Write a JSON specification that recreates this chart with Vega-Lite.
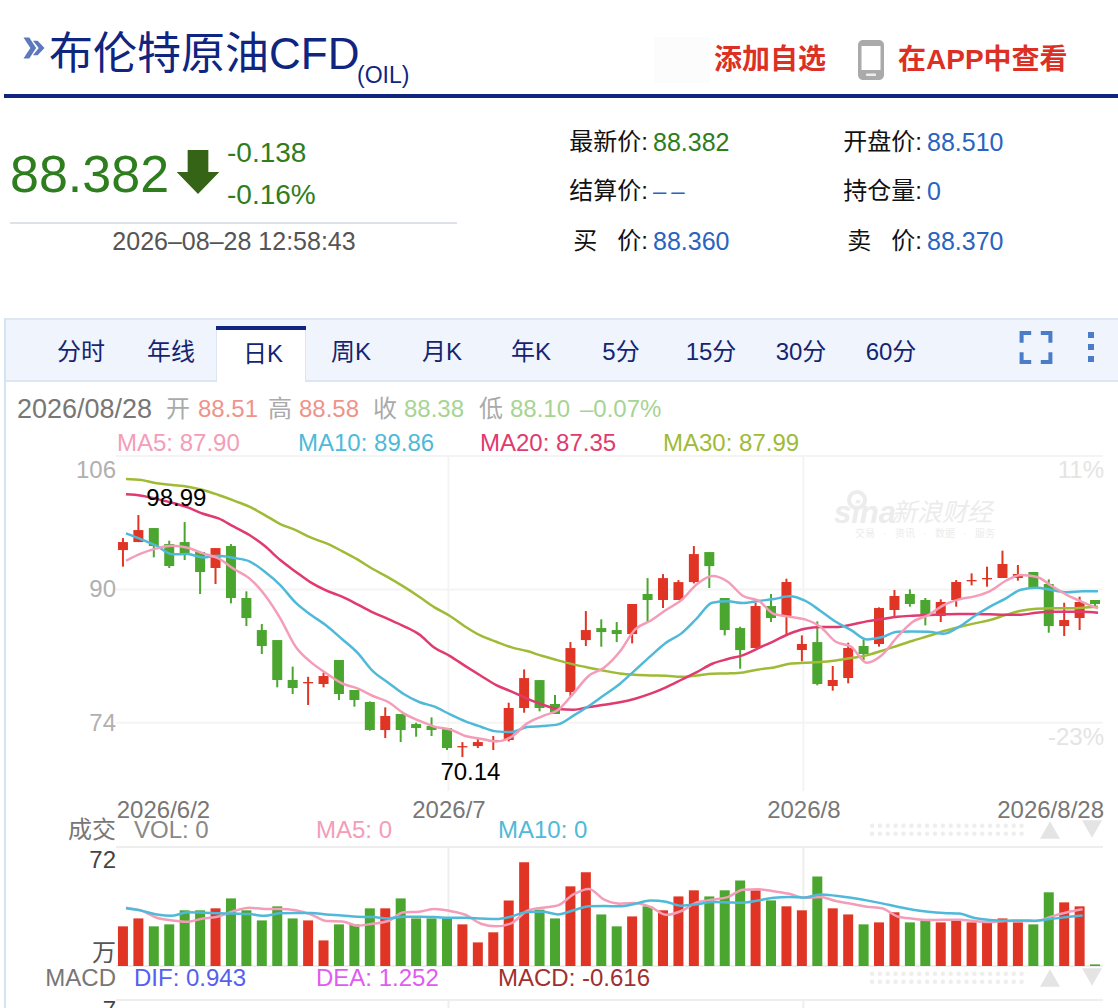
{"$schema":"https://vega.github.io/schema/vega-lite/v6.json","width":1118,"height":1008,"padding":0,"autosize":"none","background":"#ffffff",
"config":{"view":{"stroke":null},"axis":{"disable":true},"legend":{"disable":true},"text":{"font":"Liberation Sans, Noto Sans CJK SC","fontSize":24,"align":"left","baseline":"middle"}},
"datasets":{
"days":[
{"i":0,"dir":"up","o":94.72,"h":96.16,"l":92.73,"c":95.68,"v":24.0,"m5":93.44,"m10":96.72,"m20":101.40,"m30":103.24,"vm5":35.3,"vm10":34.9},
{"i":1,"dir":"up","o":95.68,"h":98.92,"l":95.68,"c":97.12,"v":28.8,"m5":94.32,"m10":96.00,"m20":101.24,"m30":103.12,"vm5":33.5,"vm10":33.5},
{"i":2,"dir":"down","o":97.36,"h":97.36,"l":93.85,"c":95.21,"v":24.0,"m5":94.92,"m10":95.21,"m20":100.84,"m30":102.72,"vm5":29.2,"vm10":31.2},
{"i":3,"dir":"down","o":95.44,"h":95.84,"l":92.57,"c":92.81,"v":25.2,"m5":95.24,"m10":94.21,"m20":100.40,"m30":102.52,"vm5":27.6,"vm10":30.4},
{"i":4,"dir":"down","o":95.68,"h":98.08,"l":93.53,"c":94.24,"v":33.7,"m5":95.00,"m10":94.24,"m20":99.84,"m30":102.32,"vm5":26.8,"vm10":32.5},
{"i":5,"dir":"down","o":94.49,"h":94.49,"l":89.45,"c":92.09,"v":33.7,"m5":94.32,"m10":93.84,"m20":99.08,"m30":101.92,"vm5":28.8,"vm10":32.3},
{"i":6,"dir":"up","o":92.57,"h":94.96,"l":90.65,"c":94.96,"v":34.9,"m5":93.72,"m10":94.04,"m20":98.52,"m30":101.32,"vm5":30.0,"vm10":31.9},
{"i":7,"dir":"down","o":95.21,"h":95.44,"l":88.33,"c":88.97,"v":40.9,"m5":92.45,"m10":93.77,"m20":97.52,"m30":100.64,"vm5":33.3,"vm10":31.7},
{"i":8,"dir":"down","o":88.97,"h":89.77,"l":85.61,"c":86.57,"v":33.7,"m5":91.33,"m10":93.37,"m20":96.52,"m30":99.92,"vm5":35.3,"vm10":31.4},
{"i":9,"dir":"down","o":85.13,"h":85.85,"l":82.25,"c":83.21,"v":27.6,"m5":89.33,"m10":92.13,"m20":95.20,"m30":98.92,"vm5":34.5,"vm10":30.4},
{"i":10,"dir":"down","o":83.93,"h":83.93,"l":78.26,"c":79.14,"v":36.1,"m5":86.53,"m10":90.53,"m20":93.52,"m30":97.84,"vm5":34.5,"vm10":31.9},
{"i":11,"dir":"down","o":79.14,"h":80.74,"l":77.46,"c":78.18,"v":28.8,"m5":83.13,"m10":88.41,"m20":92.13,"m30":97.12,"vm5":33.7,"vm10":32.1},
{"i":12,"dir":"up","o":78.74,"h":79.53,"l":76.14,"c":78.90,"v":27.6,"m5":81.25,"m10":86.93,"m20":90.81,"m30":96.20,"vm5":31.2,"vm10":32.1},
{"i":13,"dir":"up","o":78.66,"h":80.02,"l":78.26,"c":79.62,"v":15.5,"m5":79.93,"m10":85.65,"m20":89.85,"m30":95.52,"vm5":27.2,"vm10":31.2},
{"i":14,"dir":"down","o":81.54,"h":81.54,"l":76.74,"c":77.46,"v":25.2,"m5":78.74,"m10":84.05,"m20":89.13,"m30":94.60,"vm5":27.0,"vm10":30.6},
{"i":15,"dir":"down","o":77.94,"h":77.94,"l":75.94,"c":76.74,"v":25.2,"m5":78.14,"m10":82.41,"m20":88.21,"m30":93.60,"vm5":24.4,"vm10":29.8},
{"i":16,"dir":"down","o":76.50,"h":76.58,"l":73.06,"c":73.14,"v":34.9,"m5":77.22,"m10":80.21,"m20":87.25,"m30":92.45,"vm5":25.6,"vm10":29.6},
{"i":17,"dir":"up","o":73.14,"h":75.86,"l":72.18,"c":74.82,"v":34.9,"m5":76.50,"m10":78.82,"m20":86.45,"m30":91.45,"vm5":27.2,"vm10":28.8},
{"i":18,"dir":"down","o":75.06,"h":75.06,"l":71.70,"c":73.14,"v":40.9,"m5":75.14,"m10":77.46,"m20":85.61,"m30":90.33,"vm5":32.5,"vm10":29.8},
{"i":19,"dir":"down","o":73.86,"h":74.02,"l":72.34,"c":73.38,"v":28.8,"m5":74.26,"m10":76.50,"m20":84.61,"m30":89.13,"vm5":32.9,"vm10":29.8},
{"i":20,"dir":"down","o":73.62,"h":74.66,"l":72.42,"c":73.14,"v":28.8,"m5":73.54,"m10":75.94,"m20":83.01,"m30":87.85,"vm5":34.5,"vm10":29.6},
{"i":21,"dir":"down","o":73.38,"h":73.38,"l":70.74,"c":70.98,"v":28.8,"m5":73.22,"m10":75.02,"m20":82.01,"m30":86.81,"vm5":33.3,"vm10":29.2},
{"i":22,"dir":"up","o":71.06,"h":71.70,"l":69.90,"c":71.22,"v":25.2,"m5":72.42,"m10":74.18,"m20":80.81,"m30":85.53,"vm5":31.0,"vm10":29.2},
{"i":23,"dir":"up","o":71.22,"h":72.18,"l":70.98,"c":71.70,"v":14.3,"m5":72.10,"m10":73.54,"m20":79.65,"m30":84.45,"vm5":25.6,"vm10":28.8},
{"i":24,"dir":"up","o":71.78,"h":72.42,"l":70.74,"c":71.94,"v":20.4,"m5":71.78,"m10":72.98,"m20":78.53,"m30":83.73,"vm5":24.0,"vm10":28.4},
{"i":25,"dir":"up","o":71.94,"h":76.42,"l":71.78,"c":75.78,"v":39.7,"m5":72.34,"m10":72.90,"m20":77.74,"m30":83.05,"vm5":26.0,"vm10":30.0},
{"i":26,"dir":"up","o":75.78,"h":80.41,"l":75.22,"c":79.37,"v":62.7,"m5":73.94,"m10":73.50,"m20":76.90,"m30":82.61,"vm5":33.3,"vm10":32.7},
{"i":27,"dir":"down","o":79.13,"h":79.13,"l":75.38,"c":75.78,"v":34.1,"m5":74.82,"m10":73.62,"m20":76.18,"m30":82.01,"vm5":35.3,"vm10":32.9},
{"i":28,"dir":"down","o":76.26,"h":77.34,"l":75.06,"c":75.06,"v":28.8,"m5":75.54,"m10":73.82,"m20":75.66,"m30":81.49,"vm5":36.7,"vm10":31.2},
{"i":29,"dir":"up","o":77.70,"h":83.69,"l":77.14,"c":82.97,"v":48.2,"m5":77.54,"m10":74.86,"m20":75.58,"m30":81.01,"vm5":43.3,"vm10":33.7},
{"i":30,"dir":"up","o":83.93,"h":87.41,"l":83.21,"c":85.13,"v":56.7,"m5":79.65,"m10":76.02,"m20":75.90,"m30":80.61,"vm5":46.6,"vm10":36.1},
{"i":31,"dir":"down","o":85.37,"h":86.41,"l":83.13,"c":84.89,"v":31.2,"m5":80.65,"m10":77.34,"m20":76.18,"m30":80.25,"vm5":40.1,"vm10":36.3},
{"i":32,"dir":"down","o":85.13,"h":86.09,"l":83.69,"c":84.65,"v":24.0,"m5":82.53,"m10":78.66,"m20":76.46,"m30":79.93,"vm5":37.7,"vm10":36.1},
{"i":33,"dir":"up","o":84.65,"h":88.25,"l":83.53,"c":88.25,"v":30.0,"m5":85.21,"m10":80.33,"m20":76.90,"m30":79.77,"vm5":38.1,"vm10":37.7},
{"i":34,"dir":"down","o":89.45,"h":91.36,"l":86.09,"c":88.73,"v":36.1,"m5":86.25,"m10":82.01,"m20":77.50,"m30":79.69,"vm5":35.7,"vm10":39.7},
{"i":35,"dir":"up","o":88.73,"h":91.84,"l":87.77,"c":91.36,"v":33.7,"m5":87.53,"m10":83.61,"m20":78.26,"m30":79.65,"vm5":31.0,"vm10":38.9},
{"i":36,"dir":"up","o":88.73,"h":91.12,"l":88.73,"c":90.88,"v":42.1,"m5":88.73,"m10":84.73,"m20":79.17,"m30":79.53,"vm5":33.3,"vm10":36.5},
{"i":37,"dir":"up","o":90.88,"h":95.20,"l":90.72,"c":94.24,"v":45.8,"m5":90.61,"m10":86.53,"m20":80.09,"m30":79.69,"vm5":38.5,"vm10":37.3},
{"i":38,"dir":"down","o":94.48,"h":94.48,"l":90.17,"c":92.80,"v":42.1,"m5":91.60,"m10":88.41,"m20":81.09,"m30":79.89,"vm5":40.1,"vm10":38.7},
{"i":39,"dir":"down","o":88.97,"h":88.97,"l":84.49,"c":85.13,"v":45.8,"m5":90.93,"m10":88.57,"m20":81.65,"m30":79.93,"vm5":41.7,"vm10":38.5},
{"i":40,"dir":"down","o":85.37,"h":85.53,"l":80.49,"c":82.73,"v":51.8,"m5":89.21,"m10":88.37,"m20":82.13,"m30":80.05,"vm5":46.2,"vm10":38.3},
{"i":41,"dir":"up","o":82.97,"h":88.41,"l":82.97,"c":88.01,"v":45.8,"m5":88.65,"m10":88.61,"m20":82.97,"m30":80.41,"vm5":46.4,"vm10":39.7},
{"i":42,"dir":"down","o":88.01,"h":89.45,"l":86.09,"c":86.57,"v":39.7,"m5":87.05,"m10":88.85,"m20":83.81,"m30":80.65,"vm5":45.2,"vm10":41.3},
{"i":43,"dir":"up","o":86.81,"h":91.29,"l":84.65,"c":90.89,"v":36.1,"m5":86.73,"m10":89.17,"m20":84.69,"m30":81.09,"vm5":43.7,"vm10":41.7},
{"i":44,"dir":"up","o":82.74,"h":84.49,"l":81.38,"c":83.46,"v":33.7,"m5":86.41,"m10":88.65,"m20":85.29,"m30":81.21,"vm5":41.3,"vm10":41.5},
{"i":45,"dir":"down","o":83.69,"h":86.17,"l":78.50,"c":78.66,"v":54.2,"m5":85.53,"m10":87.45,"m20":85.49,"m30":81.29,"vm5":41.7,"vm10":43.3},
{"i":46,"dir":"up","o":78.42,"h":80.82,"l":77.86,"c":79.14,"v":34.9,"m5":83.73,"m10":86.13,"m20":85.49,"m30":81.49,"vm5":39.3,"vm10":42.5},
{"i":47,"dir":"up","o":79.38,"h":83.61,"l":78.74,"c":82.98,"v":31.2,"m5":83.13,"m10":85.13,"m20":85.77,"m30":81.77,"vm5":37.7,"vm10":41.3},
{"i":48,"dir":"down","o":83.22,"h":84.02,"l":81.54,"c":82.26,"v":25.2,"m5":81.21,"m10":84.01,"m20":86.17,"m30":82.09,"vm5":35.9,"vm10":39.7},
{"i":49,"dir":"up","o":83.46,"h":87.85,"l":83.14,"c":87.77,"v":26.4,"m5":82.13,"m10":84.29,"m20":86.45,"m30":82.65,"vm5":34.9,"vm10":37.9},
{"i":50,"dir":"up","o":87.53,"h":89.93,"l":86.73,"c":89.21,"v":32.5,"m5":84.33,"m10":84.93,"m20":86.73,"m30":83.25,"vm5":30.0,"vm10":35.9},
{"i":51,"dir":"down","o":89.45,"h":90.01,"l":87.93,"c":88.25,"v":26.4,"m5":86.13,"m10":84.97,"m20":86.85,"m30":83.85,"vm5":28.6,"vm10":34.1},
{"i":52,"dir":"down","o":88.73,"h":88.97,"l":85.69,"c":86.81,"v":27.6,"m5":86.93,"m10":84.93,"m20":86.93,"m30":84.41,"vm5":27.8,"vm10":32.9},
{"i":53,"dir":"up","o":86.81,"h":88.81,"l":86.09,"c":88.49,"v":26.4,"m5":88.13,"m10":84.69,"m20":87.01,"m30":85.01,"vm5":28.0,"vm10":32.1},
{"i":54,"dir":"up","o":88.73,"h":91.13,"l":87.93,"c":90.89,"v":27.6,"m5":88.81,"m10":85.53,"m20":87.05,"m30":85.49,"vm5":28.0,"vm10":31.7},
{"i":55,"dir":"up","o":90.97,"h":91.93,"l":90.49,"c":91.13,"v":26.4,"m5":89.17,"m10":86.81,"m20":87.05,"m30":85.93,"vm5":27.2,"vm10":29.0},
{"i":56,"dir":"up","o":91.21,"h":92.73,"l":90.33,"c":91.37,"v":26.4,"m5":89.81,"m10":87.93,"m20":87.01,"m30":86.33,"vm5":26.6,"vm10":27.8},
{"i":57,"dir":"up","o":91.37,"h":94.65,"l":91.37,"c":93.05,"v":28.8,"m5":91.01,"m10":88.89,"m20":86.97,"m30":86.93,"vm5":27.2,"vm10":27.4},
{"i":58,"dir":"up","o":91.37,"h":92.93,"l":91.05,"c":91.85,"v":26.4,"m5":91.73,"m10":89.97,"m20":86.97,"m30":87.45,"vm5":27.2,"vm10":27.6},
{"i":59,"dir":"down","o":92.09,"h":92.09,"l":90.17,"c":90.17,"v":25.2,"m5":91.53,"m10":90.21,"m20":87.21,"m30":87.69,"vm5":27.2,"vm10":27.4},
{"i":60,"dir":"down","o":90.65,"h":91.21,"l":84.81,"c":85.61,"v":44.6,"m5":90.41,"m10":89.93,"m20":87.33,"m30":87.73,"vm5":30.0,"vm10":28.6},
{"i":61,"dir":"up","o":85.61,"h":88.41,"l":84.41,"c":86.33,"v":38.5,"m5":89.33,"m10":89.65,"m20":87.33,"m30":87.73,"vm5":32.5,"vm10":29.6},
{"i":62,"dir":"up","o":86.57,"h":89.13,"l":85.13,"c":88.49,"v":36.1,"m5":88.49,"m10":89.77,"m20":87.33,"m30":87.81,"vm5":34.3,"vm10":30.6},
{"i":63,"dir":"down","o":88.73,"h":88.73,"l":87.93,"c":88.25,"v":1.0,"m5":87.73,"m10":89.77,"m20":87.21,"m30":87.93}
],
"dots":[{"c":0,"r":0},{"c":1,"r":0},{"c":2,"r":0},{"c":3,"r":0},{"c":4,"r":0},{"c":5,"r":0},{"c":6,"r":0},{"c":7,"r":0},{"c":8,"r":0},{"c":9,"r":0},{"c":10,"r":0},{"c":11,"r":0},{"c":12,"r":0},{"c":13,"r":0},{"c":14,"r":0},{"c":15,"r":0},{"c":16,"r":0},{"c":17,"r":0},{"c":18,"r":0},{"c":19,"r":0},{"c":0,"r":1},{"c":1,"r":1},{"c":2,"r":1},{"c":3,"r":1},{"c":4,"r":1},{"c":5,"r":1},{"c":6,"r":1},{"c":7,"r":1},{"c":8,"r":1},{"c":9,"r":1},{"c":10,"r":1},{"c":11,"r":1},{"c":12,"r":1},{"c":13,"r":1},{"c":14,"r":1},{"c":15,"r":1},{"c":16,"r":1},{"c":17,"r":1},{"c":18,"r":1},{"c":19,"r":1}],
"dates":[{"i":21},{"i":44}]
},
"resolve":{"scale":{"x":"independent","y":"independent"}},
"layer":[
{"layer":[
{"data":{"values":[{"part":"tab bar"}]},"mark":{"type":"rect","color":"#eff4fd"},"encoding":{"x":{"datum":5,"scale":{"domain":[0,1118],"range":[0,1118],"nice":false,"zero":false}},"x2":{"datum":1118},"y":{"datum":319,"scale":{"domain":[0,1008],"range":[0,1008],"nice":false,"zero":false}},"y2":{"datum":381}}},
{"data":{"values":[{"part":"tab bar top border"}]},"mark":{"type":"rect","color":"#dfe7f5"},"encoding":{"x":{"datum":5},"x2":{"datum":1118},"y":{"datum":318},"y2":{"datum":320}}},
{"data":{"values":[{"part":"tab bar bottom border"}]},"mark":{"type":"rect","color":"#dde5f4"},"encoding":{"x":{"datum":5},"x2":{"datum":1118},"y":{"datum":380},"y2":{"datum":382}}},
{"data":{"values":[{"part":"left border"}]},"mark":{"type":"rect","color":"#d4e4f2"},"encoding":{"x":{"datum":4},"x2":{"datum":6},"y":{"datum":318},"y2":{"datum":1008}}},
{"data":{"values":[{"part":"active tab border"}]},"mark":{"type":"rect","color":"#dde5f4"},"encoding":{"x":{"datum":216},"x2":{"datum":306},"y":{"datum":326},"y2":{"datum":381}}},
{"data":{"values":[{"part":"active tab"}]},"mark":{"type":"rect","color":"#ffffff"},"encoding":{"x":{"datum":217},"x2":{"datum":305},"y":{"datum":326},"y2":{"datum":383}}},
{"data":{"values":[{"part":"active tab top"}]},"mark":{"type":"rect","color":"#0f2580"},"encoding":{"x":{"datum":216},"x2":{"datum":306},"y":{"datum":326},"y2":{"datum":330}}},
{"data":{"values":[{"part":"header rule"}]},"mark":{"type":"rect","color":"#0f2580"},"encoding":{"x":{"datum":4},"x2":{"datum":1118},"y":{"datum":94},"y2":{"datum":98}}},
{"data":{"values":[{"part":"quote rule"}]},"mark":{"type":"rect","color":"#dde2e8"},"encoding":{"x":{"datum":10},"x2":{"datum":457},"y":{"datum":222},"y2":{"datum":224}}},
{"data":{"values":[{"part":"placeholder"}]},"mark":{"type":"rect","color":"#fcfcfc"},"encoding":{"x":{"datum":654},"x2":{"datum":710},"y":{"datum":37},"y2":{"datum":83}}},
{"data":{"values":[{"part":"phone body"}]},"mark":{"type":"rect","color":"#aaaaaa","cornerRadius":5},"encoding":{"x":{"datum":858},"x2":{"datum":884},"y":{"datum":40},"y2":{"datum":80}}},
{"data":{"values":[{"part":"phone screen"}]},"mark":{"type":"rect","color":"#ffffff"},"encoding":{"x":{"datum":861.5},"x2":{"datum":880.5},"y":{"datum":46},"y2":{"datum":70}}},
{"data":{"values":[{"part":"phone button"}]},"mark":{"type":"rect","color":"#eeeeee","cornerRadius":1},"encoding":{"x":{"datum":866},"x2":{"datum":876},"y":{"datum":73.5},"y2":{"datum":76}}},
{"data":{"values":[{"part":"bullet"}]},"mark":{"type":"point","filled":true,"opacity":1,"color":"#5c79bd","size":440,"shape":"M-1 -1L-0.45 -1L0.2 0L-0.45 1L-1 1L-0.35 0ZM-0.1 -0.7L0.35 -0.7L1 0L0.35 0.7L-0.1 0.7L0.45 0Z"},"encoding":{"x":{"datum":34},"y":{"datum":48}}},
{"data":{"values":[{"part":"down arrow"}]},"mark":{"type":"point","filled":true,"opacity":1,"color":"#366417","size":1936,"shape":"M-0.47 -1L0.47 -1L0.47 0L0.97 0L0 1L-0.97 0L-0.47 0Z"},"encoding":{"x":{"datum":198},"y":{"datum":172}}},
{"data":{"values":[{"part":"fullscreen icon"}]},"mark":{"type":"point","filled":false,"opacity":1,"color":"#4a7cc8","strokeWidth":4,"size":1024,"shape":"M-0.9 -0.3L-0.9 -0.9L-0.3 -0.9M0.3 -0.9L0.9 -0.9L0.9 -0.3M0.9 0.3L0.9 0.9L0.3 0.9M-0.3 0.9L-0.9 0.9L-0.9 0.3"},"encoding":{"x":{"datum":1036},"y":{"datum":347.5}}},
{"data":{"values":[{"part":"menu dot 1"}]},"mark":{"type":"point","filled":true,"opacity":1,"color":"#4a7cc8","size":36,"shape":"square"},"encoding":{"x":{"datum":1091},"y":{"datum":335}}},
{"data":{"values":[{"part":"menu dot 2"}]},"mark":{"type":"point","filled":true,"opacity":1,"color":"#4a7cc8","size":36,"shape":"square"},"encoding":{"x":{"datum":1091},"y":{"datum":347}}},
{"data":{"values":[{"part":"menu dot 3"}]},"mark":{"type":"point","filled":true,"opacity":1,"color":"#4a7cc8","size":36,"shape":"square"},"encoding":{"x":{"datum":1091},"y":{"datum":359}}},
{"data":{"values":[{"part":"vol up"}]},"mark":{"type":"point","filled":true,"opacity":1,"color":"#e4e4e4","size":400,"shape":"triangle-up"},"encoding":{"x":{"datum":1050},"y":{"datum":830}}},
{"data":{"values":[{"part":"vol down"}]},"mark":{"type":"point","filled":true,"opacity":1,"color":"#e4e4e4","size":400,"shape":"triangle-down"},"encoding":{"x":{"datum":1092},"y":{"datum":829}}},
{"data":{"values":[{"part":"macd up"}]},"mark":{"type":"point","filled":true,"opacity":1,"color":"#e4e4e4","size":400,"shape":"triangle-up"},"encoding":{"x":{"datum":1050},"y":{"datum":978}}},
{"data":{"values":[{"part":"macd down"}]},"mark":{"type":"point","filled":true,"opacity":1,"color":"#e4e4e4","size":400,"shape":"triangle-down"},"encoding":{"x":{"datum":1092},"y":{"datum":977}}},
{"data":{"values":[{"part":"logo eye"}]},"mark":{"type":"point","filled":false,"opacity":1,"color":"#ececec","strokeWidth":4,"size":260,"shape":"circle"},"encoding":{"x":{"datum":857},"y":{"datum":500}}}
]},
{"encoding":{"text":{"field":"t"}},"layer":[
{"data":{"values":[{"t":"布伦特原油CFD"}]},"mark":{"type":"text","fontSize":44,"color":"#0f2580","baseline":"alphabetic"},"encoding":{"x":{"datum":49,"scale":{"domain":[0,1118],"range":[0,1118],"nice":false,"zero":false}},"y":{"datum":69,"scale":{"domain":[0,1008],"range":[0,1008],"nice":false,"zero":false}}}},
{"data":{"values":[{"t":"(OIL)"}]},"mark":{"type":"text","fontSize":23,"color":"#0f2580","baseline":"alphabetic"},"encoding":{"x":{"datum":357},"y":{"datum":83}}},
{"data":{"values":[{"t":"添加自选"}]},"mark":{"type":"text","fontSize":28,"fontWeight":"bold","color":"#dd3025"},"encoding":{"x":{"datum":714},"y":{"datum":61}}},
{"data":{"values":[{"t":"在APP中查看"}]},"mark":{"type":"text","fontSize":28,"fontWeight":"bold","color":"#dd3025"},"encoding":{"x":{"datum":898},"y":{"datum":61}}},
{"data":{"values":[{"t":"88.382"}]},"mark":{"type":"text","fontSize":52,"color":"#2e7d1f","baseline":"alphabetic"},"encoding":{"x":{"datum":10},"y":{"datum":192}}},
{"data":{"values":[{"t":"-0.138"}]},"mark":{"type":"text","fontSize":28,"color":"#2e7d1f","baseline":"alphabetic"},"encoding":{"x":{"datum":227},"y":{"datum":162}}},
{"data":{"values":[{"t":"-0.16%"}]},"mark":{"type":"text","fontSize":28,"color":"#2e7d1f","baseline":"alphabetic"},"encoding":{"x":{"datum":227},"y":{"datum":204}}},
{"data":{"values":[{"t":"2026–08–28 12:58:43"}]},"mark":{"type":"text","fontSize":25,"color":"#555555","align":"center","baseline":"alphabetic"},"encoding":{"x":{"datum":234},"y":{"datum":250}}},
{"data":{"values":[{"t":"最新价:"}]},"mark":{"type":"text","color":"#111111","align":"right"},"encoding":{"x":{"datum":648},"y":{"datum":143}}},
{"data":{"values":[{"t":"结算价:"}]},"mark":{"type":"text","color":"#111111","align":"right"},"encoding":{"x":{"datum":648},"y":{"datum":192}}},
{"data":{"values":[{"t":"买\u00a0\u00a0\u00a0价:"}]},"mark":{"type":"text","color":"#111111","align":"right"},"encoding":{"x":{"datum":648},"y":{"datum":242}}},
{"data":{"values":[{"t":"开盘价:"}]},"mark":{"type":"text","color":"#111111","align":"right"},"encoding":{"x":{"datum":922},"y":{"datum":143}}},
{"data":{"values":[{"t":"持仓量:"}]},"mark":{"type":"text","color":"#111111","align":"right"},"encoding":{"x":{"datum":922},"y":{"datum":192}}},
{"data":{"values":[{"t":"卖\u00a0\u00a0\u00a0价:"}]},"mark":{"type":"text","color":"#111111","align":"right"},"encoding":{"x":{"datum":922},"y":{"datum":242}}},
{"data":{"values":[{"t":"88.382"}]},"mark":{"type":"text","fontSize":25,"color":"#2e7d1f"},"encoding":{"x":{"datum":653},"y":{"datum":143}}},
{"data":{"values":[{"t":"–\u2009–"}]},"mark":{"type":"text","fontSize":24,"color":"#2a63c0"},"encoding":{"x":{"datum":653},"y":{"datum":192}}},
{"data":{"values":[{"t":"88.360"}]},"mark":{"type":"text","fontSize":25,"color":"#2a63c0"},"encoding":{"x":{"datum":653},"y":{"datum":242}}},
{"data":{"values":[{"t":"88.510"}]},"mark":{"type":"text","fontSize":25,"color":"#2a63c0"},"encoding":{"x":{"datum":927},"y":{"datum":143}}},
{"data":{"values":[{"t":"0"}]},"mark":{"type":"text","fontSize":25,"color":"#2a63c0"},"encoding":{"x":{"datum":927},"y":{"datum":192}}},
{"data":{"values":[{"t":"88.370"}]},"mark":{"type":"text","fontSize":25,"color":"#2a63c0"},"encoding":{"x":{"datum":927},"y":{"datum":242}}},
{"data":{"values":[{"t":"分时"}]},"mark":{"type":"text","color":"#14256f","align":"center"},"encoding":{"x":{"datum":81},"y":{"datum":353}}},
{"data":{"values":[{"t":"年线"}]},"mark":{"type":"text","color":"#14256f","align":"center"},"encoding":{"x":{"datum":171},"y":{"datum":353}}},
{"data":{"values":[{"t":"日K"}]},"mark":{"type":"text","color":"#14256f","align":"center"},"encoding":{"x":{"datum":263},"y":{"datum":355}}},
{"data":{"values":[{"t":"周K"}]},"mark":{"type":"text","color":"#14256f","align":"center"},"encoding":{"x":{"datum":351},"y":{"datum":353}}},
{"data":{"values":[{"t":"月K"}]},"mark":{"type":"text","color":"#14256f","align":"center"},"encoding":{"x":{"datum":442},"y":{"datum":353}}},
{"data":{"values":[{"t":"年K"}]},"mark":{"type":"text","color":"#14256f","align":"center"},"encoding":{"x":{"datum":531},"y":{"datum":353}}},
{"data":{"values":[{"t":"5分"}]},"mark":{"type":"text","color":"#14256f","align":"center"},"encoding":{"x":{"datum":621},"y":{"datum":353}}},
{"data":{"values":[{"t":"15分"}]},"mark":{"type":"text","color":"#14256f","align":"center"},"encoding":{"x":{"datum":711},"y":{"datum":353}}},
{"data":{"values":[{"t":"30分"}]},"mark":{"type":"text","color":"#14256f","align":"center"},"encoding":{"x":{"datum":801},"y":{"datum":353}}},
{"data":{"values":[{"t":"60分"}]},"mark":{"type":"text","color":"#14256f","align":"center"},"encoding":{"x":{"datum":891},"y":{"datum":353}}},
{"data":{"values":[{"t":"2026/08/28"}]},"mark":{"type":"text","fontSize":27,"color":"#777777"},"encoding":{"x":{"datum":17},"y":{"datum":410}}},
{"data":{"values":[{"t":"开"}]},"mark":{"type":"text","color":"#aaaaaa"},"encoding":{"x":{"datum":166},"y":{"datum":410}}},
{"data":{"values":[{"t":"88.51"}]},"mark":{"type":"text","color":"#f0928a"},"encoding":{"x":{"datum":198},"y":{"datum":410}}},
{"data":{"values":[{"t":"高"}]},"mark":{"type":"text","color":"#aaaaaa"},"encoding":{"x":{"datum":268},"y":{"datum":410}}},
{"data":{"values":[{"t":"88.58"}]},"mark":{"type":"text","color":"#f0928a"},"encoding":{"x":{"datum":299},"y":{"datum":410}}},
{"data":{"values":[{"t":"收"}]},"mark":{"type":"text","color":"#aaaaaa"},"encoding":{"x":{"datum":373},"y":{"datum":410}}},
{"data":{"values":[{"t":"88.38"}]},"mark":{"type":"text","color":"#a6d492"},"encoding":{"x":{"datum":404},"y":{"datum":410}}},
{"data":{"values":[{"t":"低"}]},"mark":{"type":"text","color":"#aaaaaa"},"encoding":{"x":{"datum":479},"y":{"datum":410}}},
{"data":{"values":[{"t":"88.10"}]},"mark":{"type":"text","color":"#a6d492"},"encoding":{"x":{"datum":510},"y":{"datum":410}}},
{"data":{"values":[{"t":"–0.07%"}]},"mark":{"type":"text","color":"#a6d492"},"encoding":{"x":{"datum":580},"y":{"datum":410}}},
{"data":{"values":[{"t":"MA5: 87.90"}]},"mark":{"type":"text","color":"#f49db8"},"encoding":{"x":{"datum":117},"y":{"datum":444}}},
{"data":{"values":[{"t":"MA10: 89.86"}]},"mark":{"type":"text","color":"#4fb9d9"},"encoding":{"x":{"datum":298},"y":{"datum":444}}},
{"data":{"values":[{"t":"MA20: 87.35"}]},"mark":{"type":"text","color":"#e03a6e"},"encoding":{"x":{"datum":480},"y":{"datum":444}}},
{"data":{"values":[{"t":"MA30: 87.99"}]},"mark":{"type":"text","color":"#9fbb36"},"encoding":{"x":{"datum":663},"y":{"datum":444}}},
{"data":{"values":[{"t":"sina"}]},"mark":{"type":"text","fontSize":31,"fontWeight":"bold","fontStyle":"italic","color":"#ececec","baseline":"alphabetic"},"encoding":{"x":{"datum":834},"y":{"datum":523}}},
{"data":{"values":[{"t":"新浪财经"}]},"mark":{"type":"text","fontSize":25,"fontStyle":"italic","color":"#ececec"},"encoding":{"x":{"datum":892},"y":{"datum":513}}},
{"data":{"values":[{"t":"交易\u00a0\u00a0\u00a0·\u00a0\u00a0\u00a0资讯\u00a0\u00a0\u00a0·\u00a0\u00a0\u00a0数据\u00a0\u00a0\u00a0·\u00a0\u00a0\u00a0服务"}]},"mark":{"type":"text","fontSize":10,"color":"#ececec"},"encoding":{"x":{"datum":855},"y":{"datum":534}}},
{"data":{"values":[{"t":"成交"}]},"mark":{"type":"text","color":"#777777","align":"right"},"encoding":{"x":{"datum":116},"y":{"datum":831}}},
{"data":{"values":[{"t":"VOL: 0"}]},"mark":{"type":"text","color":"#888888"},"encoding":{"x":{"datum":134},"y":{"datum":831}}},
{"data":{"values":[{"t":"MA5: 0"}]},"mark":{"type":"text","color":"#f49db8"},"encoding":{"x":{"datum":316},"y":{"datum":831}}},
{"data":{"values":[{"t":"MA10: 0"}]},"mark":{"type":"text","color":"#4fb9d9"},"encoding":{"x":{"datum":498},"y":{"datum":831}}},
{"data":{"values":[{"t":"72"}]},"mark":{"type":"text","color":"#444444","align":"right"},"encoding":{"x":{"datum":116},"y":{"datum":861}}},
{"data":{"values":[{"t":"万"}]},"mark":{"type":"text","color":"#555555","align":"right"},"encoding":{"x":{"datum":116},"y":{"datum":954}}},
{"data":{"values":[{"t":"MACD"}]},"mark":{"type":"text","color":"#777777","align":"right"},"encoding":{"x":{"datum":116},"y":{"datum":979}}},
{"data":{"values":[{"t":"DIF: 0.943"}]},"mark":{"type":"text","color":"#5560f0"},"encoding":{"x":{"datum":134},"y":{"datum":979}}},
{"data":{"values":[{"t":"DEA: 1.252"}]},"mark":{"type":"text","color":"#e05cf0"},"encoding":{"x":{"datum":316},"y":{"datum":979}}},
{"data":{"values":[{"t":"MACD: -0.616"}]},"mark":{"type":"text","color":"#a03030"},"encoding":{"x":{"datum":498},"y":{"datum":979}}},
{"data":{"values":[{"t":"7"}]},"mark":{"type":"text","color":"#444444","align":"right","baseline":"top"},"encoding":{"x":{"datum":116},"y":{"datum":999}}}
]},
{"data":{"name":"dots"},"mark":{"type":"point","filled":true,"opacity":1,"color":"#eeeeee","size":20,"shape":"circle"},"encoding":{"x":{"field":"c","type":"quantitative","scale":{"domain":[0,19],"range":[872,1021.6]}},"y":{"field":"r","type":"quantitative","scale":{"domain":[0,1],"range":[825.7,833.7]}}}},
{"data":{"name":"dots"},"mark":{"type":"point","filled":true,"opacity":1,"color":"#eeeeee","size":20,"shape":"circle"},"encoding":{"x":{"field":"c","type":"quantitative","scale":{"domain":[0,19],"range":[872,1021.6]}},"y":{"field":"r","type":"quantitative","scale":{"domain":[0,1],"range":[973.7,981.7]}}}},
{"layer":[
{"data":{"values":[{"price":106},{"price":90},{"price":74}]},"mark":{"type":"rule","color":"#f4f4f4","strokeWidth":2},"encoding":{"y":{"field":"price","type":"quantitative","scale":{"domain":[63,106],"range":[814.6,456],"nice":false,"zero":false}},"x":{"datum":-0.45,"scale":{"domain":[-0.45,63.58],"range":[116,1104],"nice":false,"zero":false,"padding":0}},"x2":{"datum":63.51}}},
{"data":{"name":"dates"},"mark":{"type":"rule","color":"#f4f4f4","strokeWidth":2,"xOffset":1.5},"encoding":{"x":{"field":"i","type":"quantitative"},"y":{"datum":106},"y2":{"datum":65.83}}},
{"data":{"values":[{"price":106,"label":"106"},{"price":90,"label":"90"},{"price":74,"label":"74"}]},"mark":{"type":"text","color":"#b0b0b0","align":"right","dy":{"expr":"datum.label==='106'?15:1"}},"encoding":{"y":{"field":"price","type":"quantitative"},"x":{"datum":-0.45},"text":{"field":"label"}}},
{"data":{"values":[{"price":106,"label":"11%"},{"price":74,"label":"-23%"}]},"mark":{"type":"text","color":"#e4e4e4","align":"right","dy":15},"encoding":{"y":{"field":"price","type":"quantitative"},"x":{"datum":63.58},"text":{"field":"label"}}},
{"data":{"values":[{"i":-0.4,"label":"2026/6/2","a":"left"},{"i":21,"label":"2026/7","a":"center"},{"i":44,"label":"2026/8","a":"center"},{"i":63.58,"label":"2026/8/28","a":"right"}]},"mark":{"type":"text","color":"#777777","align":{"expr":"datum.a"},"dx":{"expr":"datum.a==='center'?2:0"}},"encoding":{"x":{"field":"i","type":"quantitative"},"y":{"datum":63.4},"text":{"field":"label"}}},
{"data":{"name":"days"},"mark":{"type":"rule","strokeWidth":2},"encoding":{"x":{"field":"i","type":"quantitative"},"y":{"field":"l","type":"quantitative"},"y2":{"field":"h"},"color":{"field":"dir","type":"nominal","scale":{"domain":["up","down"],"range":["#e03524","#4ba62f"]}}}},
{"data":{"name":"days"},"mark":{"type":"bar","size":10},"encoding":{"x":{"field":"i","type":"quantitative"},"y":{"field":"o","type":"quantitative"},"y2":{"field":"c"},"color":{"field":"dir","type":"nominal"}}},
{"data":{"name":"days"},"mark":{"type":"line","color":"#9fbb36","strokeWidth":2.5,"xOffset":3,"interpolate":"monotone"},"encoding":{"x":{"field":"i","type":"quantitative"},"y":{"field":"m30","type":"quantitative"}}},
{"data":{"name":"days"},"mark":{"type":"line","color":"#e03a6e","strokeWidth":2.5,"xOffset":3,"interpolate":"monotone"},"encoding":{"x":{"field":"i","type":"quantitative"},"y":{"field":"m20","type":"quantitative"}}},
{"data":{"name":"days"},"mark":{"type":"line","color":"#4fb9d9","strokeWidth":2.5,"xOffset":3,"interpolate":"monotone"},"encoding":{"x":{"field":"i","type":"quantitative"},"y":{"field":"m10","type":"quantitative"}}},
{"data":{"name":"days"},"mark":{"type":"line","color":"#f49db8","strokeWidth":2.5,"xOffset":3,"interpolate":"monotone"},"encoding":{"x":{"field":"i","type":"quantitative"},"y":{"field":"m5","type":"quantitative"}}},
{"data":{"values":[{"i":1,"price":98.99,"label":"98.99"}]},"mark":{"type":"text","color":"#000000","align":"center","dx":38,"dy":-15},"encoding":{"x":{"field":"i","type":"quantitative"},"y":{"field":"price","type":"quantitative"},"text":{"field":"label"}}},
{"data":{"values":[{"i":22,"price":70.14,"label":"70.14"}]},"mark":{"type":"text","color":"#000000","align":"center","dx":8,"dy":18},"encoding":{"x":{"field":"i","type":"quantitative"},"y":{"field":"price","type":"quantitative"},"text":{"field":"label"}}}
]},
{"layer":[
{"data":{"values":[{"vol":72},{"vol":0},{"vol":-20.6}]},"mark":{"type":"rule","color":"#eeeeee","strokeWidth":2},"encoding":{"y":{"field":"vol","type":"quantitative","scale":{"domain":[-26,72],"range":[1009,847],"nice":false,"zero":false}},"x":{"datum":-0.45,"scale":{"domain":[-0.45,63.58],"range":[116,1104],"nice":false,"zero":false,"padding":0}},"x2":{"datum":63.51}}},
{"data":{"name":"dates"},"mark":{"type":"rule","color":"#eeeeee","strokeWidth":2,"xOffset":1.5},"encoding":{"x":{"field":"i","type":"quantitative"},"y":{"datum":72},"y2":{"datum":0}}},
{"data":{"name":"dates"},"mark":{"type":"rule","color":"#eeeeee","strokeWidth":2,"xOffset":1.5},"encoding":{"x":{"field":"i","type":"quantitative"},"y":{"datum":-20.6},"y2":{"datum":-26}}},
{"data":{"name":"days"},"mark":{"type":"bar","size":10},"encoding":{"x":{"field":"i","type":"quantitative"},"y":{"field":"v","type":"quantitative"},"color":{"field":"dir","type":"nominal","scale":{"domain":["up","down"],"range":["#e03524","#4ba62f"]}}}},
{"data":{"name":"days"},"mark":{"type":"line","color":"#f49db8","strokeWidth":2.5,"xOffset":3,"interpolate":"monotone"},"encoding":{"x":{"field":"i","type":"quantitative"},"y":{"field":"vm5","type":"quantitative"}}},
{"data":{"name":"days"},"mark":{"type":"line","color":"#4fb9d9","strokeWidth":2.5,"xOffset":3,"interpolate":"monotone"},"encoding":{"x":{"field":"i","type":"quantitative"},"y":{"field":"vm10","type":"quantitative"}}}
]}
]}
